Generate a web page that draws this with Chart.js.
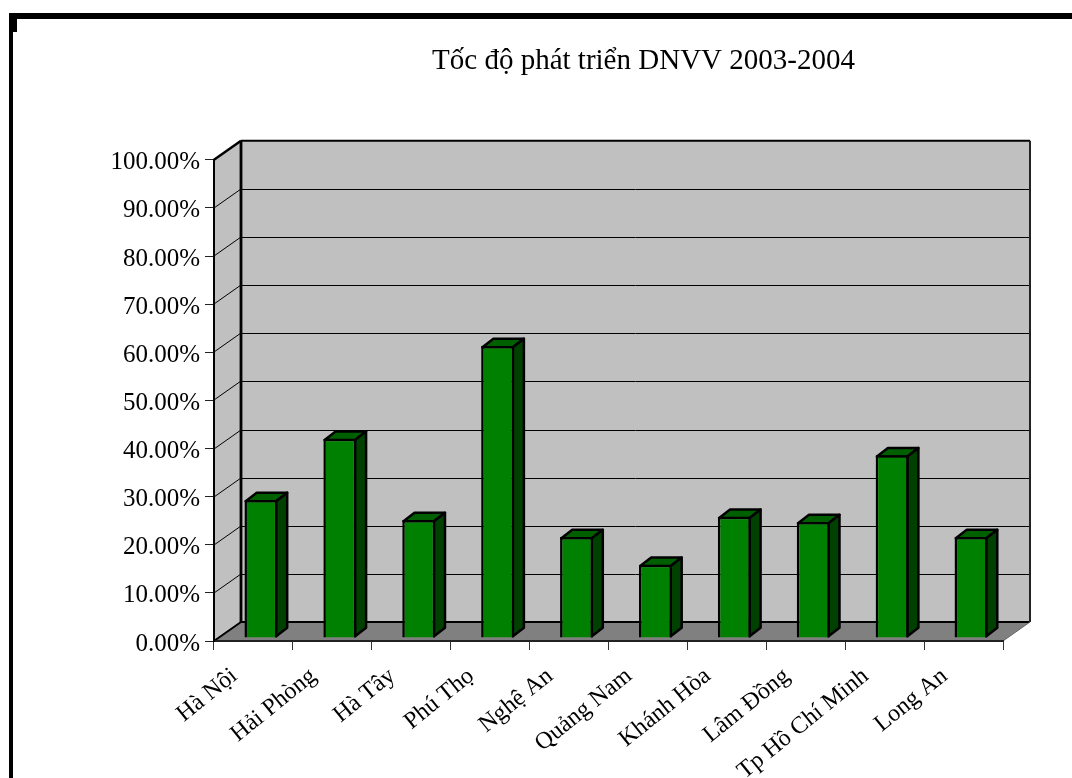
<!DOCTYPE html>
<html lang="vi">
<head>
<meta charset="utf-8">
<title>Tốc độ phát triển DNVV 2003-2004</title>
<script src="https://cdn.jsdelivr.net/npm/chart.js@4/dist/chart.umd.min.js"></script>
<style>
  html, body { margin: 0; padding: 0; background: #fff; overflow: hidden; }
  #wrap { position: relative; width: 1072px; height: 778px; }
  #chart1 { display: block; }
  .frame { position: absolute; background: #000; }
  #frameTop { left: 9px; top: 13px; right: 0; height: 6px; }
  #frameLeft { left: 9px; top: 13px; bottom: 0; width: 4px; }
  #frameCorner { left: 9px; top: 13px; width: 8px; height: 19px; }
</style>
</head>
<body>
<div id="wrap">
  <canvas id="chart1" width="1072" height="778"></canvas>
  <div class="frame" id="frameTop"></div>
  <div class="frame" id="frameLeft"></div>
  <div class="frame" id="frameCorner"></div>
</div>
<script>
'use strict';

var chartTitle = "Tốc độ phát triển DNVV 2003-2004";
var provinces = ["Hà Nội", "Hải Phòng", "Hà Tây", "Phú Thọ", "Nghệ An", "Quảng Nam", "Khánh Hòa", "Lâm Đồng", "Tp Hồ Chí Minh", "Long An"];
var growthRates = [28.7, 41.4, 24.5, 60.7, 21.0, 15.2, 25.2, 24.1, 38.0, 21.0];

var FONT = "'Liberation Serif', 'Times New Roman', serif";
// 3D look: how far the back wall and the bar depth are pushed up and right
var WALL_DX = 27, WALL_DY = -19;
var BAR_DX = 7.5, BAR_DY = -3;
var DEPTH_DX = 11, DEPTH_DY = -8.5;
var BAR_BORDER = 2.5;


function poly(ctx, pts, fill, stroke, width) {
  ctx.beginPath();
  ctx.moveTo(pts[0][0], pts[0][1]);
  for (var i = 1; i < pts.length; i++) {
    ctx.lineTo(pts[i][0], pts[i][1]);
  }
  ctx.closePath();
  if (fill) {
    ctx.fillStyle = fill;
    ctx.fill();
  }
  if (stroke) {
    ctx.strokeStyle = stroke;
    ctx.lineWidth = width;
    ctx.lineJoin = "round";
    ctx.stroke();
  }
}


function line(ctx, x1, y1, x2, y2, color, width) {
  ctx.beginPath();
  ctx.moveTo(x1, y1);
  ctx.lineTo(x2, y2);
  ctx.strokeStyle = color;
  ctx.lineWidth = width;
  ctx.stroke();
}


/**
 * Walls, floor and back gridlines. Chart.js has no 3D bars so they are
 * drawn here from the y scale ticks.
 */
var wallsPlugin = {
  id: "walls",
  afterLayout: function (chart) {
    // the title sits right of the canvas centre in the picture
    chart.titleBlock.left += 142;
    chart.titleBlock.right += 142;
  },
  beforeDraw: function (chart) {
    var ctx = chart.ctx;
    var a = chart.chartArea;
    var y = chart.scales.y;
    var i, py;

    ctx.save();
    // back wall
    poly(ctx, [[a.left + WALL_DX, a.top + WALL_DY], [a.right + WALL_DX, a.top + WALL_DY],
      [a.right + WALL_DX, a.bottom + WALL_DY], [a.left + WALL_DX, a.bottom + WALL_DY]], "#c0c0c0");
    // left wall
    poly(ctx, [[a.left, a.top], [a.left + WALL_DX, a.top + WALL_DY],
      [a.left + WALL_DX, a.bottom + WALL_DY], [a.left, a.bottom]], "#c0c0c0");
    // floor
    poly(ctx, [[a.left, a.bottom], [a.left + WALL_DX, a.bottom + WALL_DY],
      [a.right + WALL_DX, a.bottom + WALL_DY], [a.right, a.bottom]], "#808080");

    for (i = 0; i < y.ticks.length; i++) {
      py = Math.round(y.getPixelForTick(i));
      line(ctx, a.left, py, a.left + WALL_DX, py + WALL_DY, "#000", 1);
      if (y.ticks[i].value > 0 && y.ticks[i].value < 100) {
        line(ctx, a.left + WALL_DX, py + WALL_DY + 0.5, a.right + WALL_DX, py + WALL_DY + 0.5, "#000", 1);
      }
    }
    line(ctx, a.left + WALL_DX, a.bottom + WALL_DY, a.right + WALL_DX, a.bottom + WALL_DY, "#000", 2);
    line(ctx, a.left + WALL_DX, a.top + WALL_DY, a.right + WALL_DX, a.top + WALL_DY, "#000", 2);
    line(ctx, a.left + WALL_DX, a.top + WALL_DY, a.left + WALL_DX, a.bottom + WALL_DY, "#000", 2.8);
    line(ctx, a.right + WALL_DX, a.top + WALL_DY, a.right + WALL_DX, a.bottom + WALL_DY, "#222", 2);
    line(ctx, a.left, a.top, a.left + WALL_DX, a.top + WALL_DY, "#000", 2.5);
    line(ctx, a.left, a.bottom, a.left + WALL_DX, a.bottom + WALL_DY, "#000", 2);
    line(ctx, a.right, a.bottom, a.right + WALL_DX, a.bottom + WALL_DY, "#666", 1);
    ctx.restore();
  },
  // the save here is closed in afterDatasetsDraw, so the bars are drawn shifted too
  beforeDatasetsDraw: function (chart) {
    var ctx = chart.ctx;
    ctx.save();
    ctx.translate(BAR_DX, BAR_DY);
    chart.getDatasetMeta(0).data.forEach(function (bar) {
      var inset = BAR_BORDER / 2;
      var l = bar.x - bar.width / 2 + inset;
      var r = bar.x + bar.width / 2 - inset;
      var t = bar.y + inset;
      var b = bar.base - inset;
      // top face
      poly(ctx, [[l, t], [l + DEPTH_DX, t + DEPTH_DY], [r + DEPTH_DX, t + DEPTH_DY], [r, t]],
        "#006000", "#000", BAR_BORDER);
      // side face
      poly(ctx, [[r, t], [r + DEPTH_DX, t + DEPTH_DY], [r + DEPTH_DX, b + DEPTH_DY], [r, b]],
        "#004000", "#000", BAR_BORDER);
    });
  },
  afterDatasetsDraw: function (chart) {
    chart.ctx.restore();
  }
};


function renderChart() {
  var ctx = document.getElementById("chart1").getContext("2d");
  return new Chart(ctx, {
    type: "bar",
    data: {
      labels: provinces,
      datasets: [{
        label: chartTitle,
        data: growthRates,
        backgroundColor: "#008000",
        borderColor: "#000",
        borderWidth: BAR_BORDER,
        barPercentage: 0.418,
        categoryPercentage: 1,
        clip: false
      }]
    },
    options: {
      responsive: false,
      animation: false,
      devicePixelRatio: 1,
      layout: { padding: { right: 69 } },
      plugins: {
        legend: { display: false },
        tooltip: { enabled: false },
        title: {
          display: true,
          text: chartTitle,
          color: "#000",
          font: { family: FONT, size: 29, weight: "normal" },
          padding: { top: 44, bottom: 81 }
        }
      },
      scales: {
        x: {
          afterFit: function (scale) { scale.height = 137; },
          grid: { drawOnChartArea: false, drawTicks: true, tickLength: 9, color: "#333", offset: true },
          border: { display: true, color: "#222", width: 2 },
          ticks: {
            color: "#000",
            font: { family: FONT, size: 24 },
            minRotation: 39,
            maxRotation: 39,
            autoSkip: false,
            padding: 12,
            labelOffset: -19
          }
        },
        y: {
          min: 0,
          max: 100,
          afterFit: function (scale) { scale.width = 214; },
          grid: { drawOnChartArea: false, drawTicks: true, tickLength: 9, color: "#222" },
          border: { display: true, color: "#000", width: 2 },
          ticks: {
            stepSize: 10,
            color: "#000",
            padding: 5,
            labelOffset: 3,
            font: { family: FONT, size: 25 },
            callback: function (value) { return value.toFixed(2) + "%"; }
          }
        }
      }
    },
    plugins: [wallsPlugin]
  });
}

renderChart();
</script>
</body>
</html>
